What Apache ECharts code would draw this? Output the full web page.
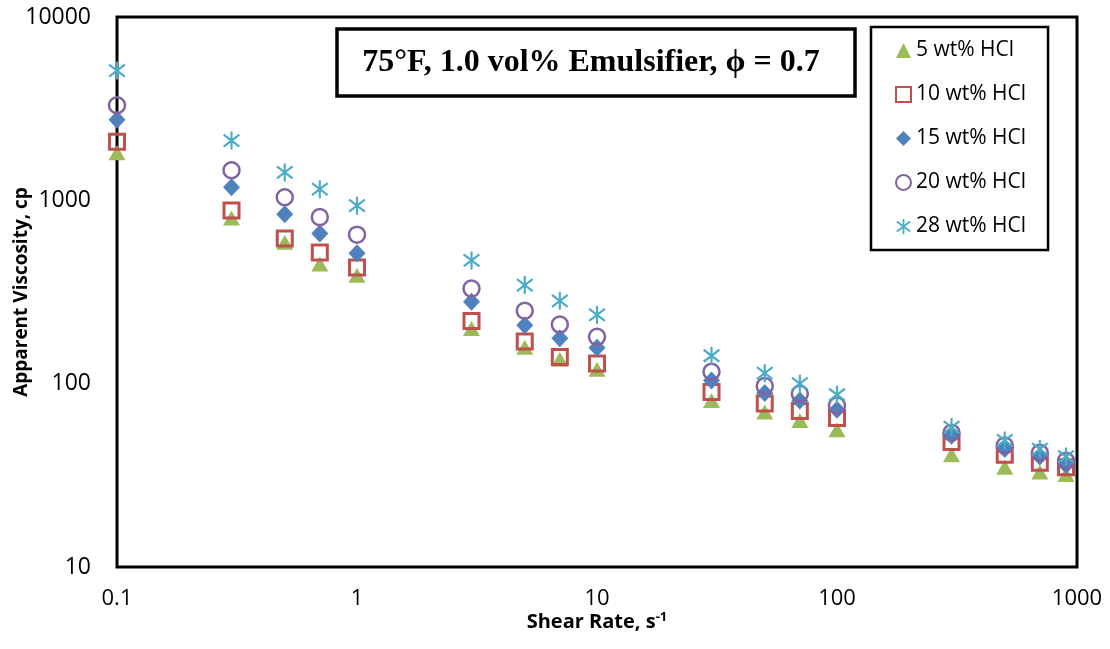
<!DOCTYPE html>
<html><head><meta charset="utf-8">
<script src="https://cdn.jsdelivr.net/npm/echarts@6/dist/echarts.min.js"></script>
<style>html,body{margin:0;padding:0;background:#fff}#c{width:1110px;height:649px}</style>
</head><body><div id="c"></div>
<script>
const shearRates = [0.1, 0.3, 0.5, 0.7, 1, 3, 5, 7, 10, 30, 50, 70, 100, 300, 500, 700, 900];
const hcl5  = [1820, 800, 590, 450, 390, 200, 158, 136, 120, 81, 70, 63, 56, 41, 35, 33, 32];
const hcl10 = [2090, 880, 620, 520, 430, 220, 170, 140, 129, 90, 78, 71, 65, 48, 41, 37, 35];
const hcl15 = [2750, 1180, 840, 660, 515, 280, 208, 177, 157, 104, 89, 81, 72, 52, 44, 40, 36];
const hcl20 = [3300, 1460, 1040, 810, 650, 330, 250, 210, 180, 116, 97, 88, 76, 54, 46, 42, 38];
const hcl28 = [5100, 2120, 1420, 1150, 935, 470, 345, 283, 237, 142, 114, 100, 87, 58, 49, 44, 40];
const seriesNames = ['5 wt% HCl', '10 wt% HCl', '15 wt% HCl', '20 wt% HCl', '28 wt% HCl'];
const xTickLabels = ['0.1', '1', '10', '100', '1000'];
const yTickLabels = ['10', '100', '1000', '10000'];
const titleText = '75°F, 1.0 vol% Emulsifier, ϕ = 0.7';

const STAR = 'path://M-1.1,-9L1.1,-9L1.1,9L-1.1,9Z' +
  'M-7.34,-6.88L8.66,5.12L7.34,6.88L-8.66,-5.12Z' +
  'M8.66,-5.12L-7.34,6.88L-8.66,5.12L7.34,-6.88Z';

function pts(vals) { return shearRates.map((x, i) => [x, vals[i]]); }

const styles = [
  { symbol: 'triangle', symbolSize: [17, 15], itemStyle: { color: '#9BBB59', opacity: 1 } },
  { symbol: 'rect', symbolSize: 15, itemStyle: { color: 'rgba(255,255,255,0)', borderColor: '#C0504D', borderWidth: 3, opacity: 1 } },
  { symbol: 'diamond', symbolSize: [17, 18], itemStyle: { color: '#4F81BD', opacity: 1 } },
  { symbol: 'circle', symbolSize: 16, itemStyle: { color: 'rgba(255,255,255,0)', borderColor: '#8064A2', borderWidth: 2.5, opacity: 1 } },
  { symbol: STAR, symbolSize: [17, 18], itemStyle: { color: '#4BACC6', opacity: 1 } }
];
const allVals = [hcl5, hcl10, hcl15, hcl20, hcl28];

const chart = echarts.init(document.getElementById('c'));
chart.setOption({
  animation: false,
  backgroundColor: '#fff',
  grid: { left: 117, right: 33, top: 17, bottom: 82, containLabel: false, outerBoundsMode: 'none',
    show: true, borderColor: '#000', borderWidth: 3, backgroundColor: 'transparent' },
  xAxis: {
    type: 'log', logBase: 10, min: 0.1, max: 1000,
    name: 'Shear Rate, s{sup|-1}', nameLocation: 'middle', nameGap: 44, nameMoveOverlap: false,
    nameTextStyle: { fontFamily: 'Open Sans', fontWeight: 'bold', fontSize: 20, color: '#000',
      rich: { sup: { fontFamily: 'Open Sans', fontWeight: 'bold', fontSize: 13, color: '#000', verticalAlign: 'top', padding: [0, 0, 10, 0] } } },
    axisLine: { show: true, lineStyle: { color: '#000', width: 2 } },
    axisTick: { show: false },
    splitLine: { show: false },
    axisLabel: { fontFamily: 'Open Sans', fontSize: 22, color: '#000', margin: 21,
      formatter: v => xTickLabels[Math.round(Math.log10(v)) + 1] }
  },
  yAxis: {
    type: 'log', logBase: 10, min: 10, max: 10000,
    name: 'Apparent Viscosity, cp', nameLocation: 'middle', nameGap: 86, nameMoveOverlap: false,
    nameTextStyle: { fontFamily: 'Open Sans', fontWeight: 'bold', fontSize: 19, color: '#000' },
    axisLine: { show: true, lineStyle: { color: '#000', width: 2 } },
    axisTick: { show: false },
    splitLine: { show: false },
    axisLabel: { fontFamily: 'Open Sans', fontSize: 23, color: '#000', margin: 26,
      formatter: v => yTickLabels[Math.round(Math.log10(v)) - 1] }
  },
  legend: {
    orient: 'vertical', left: 871, top: 27,
    padding: [13, 22, 13, 24], itemGap: 23, itemWidth: 15, itemHeight: 15,
    borderColor: '#000', borderWidth: 2.5, backgroundColor: '#fff',
    textStyle: { fontFamily: 'Open Sans', fontSize: 21, color: '#000', lineHeight: 20 },
    data: seriesNames
  },
  graphic: [
    { type: 'rect', shape: { x: 337, y: 29, width: 518, height: 67 }, style: { fill: '#fff', stroke: '#000', lineWidth: 3.5 }, z: 100 },
    { type: 'text', x: 591, y: 63, z: 101,
      style: { text: titleText, font: 'bold 32px "Liberation Serif", serif', fill: '#000', align: 'center', verticalAlign: 'middle' } }
  ],
  series: allVals.map((vals, i) => Object.assign({
    type: 'scatter', name: seriesNames[i], data: pts(vals), z: 2 + i
  }, styles[i]))
});
</script></body></html>
